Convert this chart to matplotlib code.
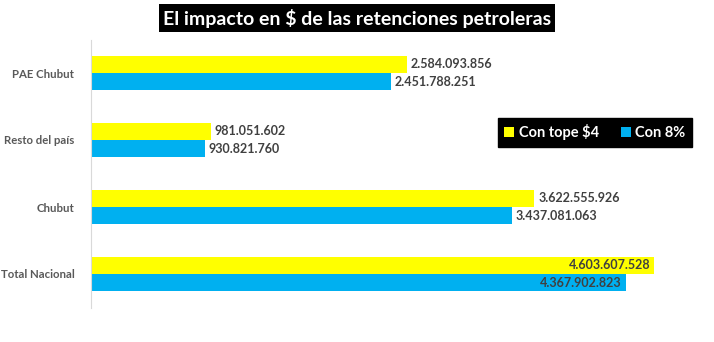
import matplotlib
matplotlib.use('Agg')
import matplotlib.pyplot as plt
import numpy as np

# ── Data ──
categories = ["PAE Chubut", "Resto del país", "Chubut", "Total Nacional"]
con_tope = [2584093856, 981051602, 3622555926, 4603607528]
con_8 = [2451788251, 930821760, 3437081063, 4367902823]
series_names = ["Con tope $4", "Con 8%"]

YELLOW = "#ffff00"
BLUE = "#00b0f0"
TXT = "#404040"


def fmt(v):
    return f"{v:,}".replace(",", ".")


plt.rcParams['font.family'] = ['Lato', 'DejaVu Sans']

fig = plt.figure(figsize=(7.14, 3.42), dpi=100)
ax = fig.add_axes([91 / 714, 1 - 307.5 / 342, 612 / 714, 268 / 342])

y = np.arange(len(categories))
h = 0.254
b1 = ax.barh(y - h / 2, con_tope, height=h, color=YELLOW, label=series_names[0])
b2 = ax.barh(y + h / 2, con_8, height=h, color=BLUE, label=series_names[1])

ax.set_xlim(0, 5e9)
ax.set_ylim(len(categories) - 0.5, -0.5)

for bars, vals in ((b1, con_tope), (b2, con_8)):
    for i, (bar, v) in enumerate(zip(bars, vals)):
        cy = bar.get_y() + bar.get_height() / 2
        if i == len(vals) - 1:
            ax.text(v - 0.03e9, cy, fmt(v), ha='right', va='center',
                    fontsize=9, fontweight='bold', color=TXT)
        else:
            ax.text(v + 0.03e9, cy, fmt(v), ha='left', va='center',
                    fontsize=9, fontweight='bold', color=TXT)

ax.set_yticks(y)
ax.set_yticklabels(categories, fontsize=8.2, fontweight='bold', color="#595959")
ax.tick_params(axis='y', length=0, pad=12)
ax.set_xticks([])
for s in ('top', 'right', 'bottom'):
    ax.spines[s].set_visible(False)
ax.spines['left'].set_color("#d9d9d9")

# title in a black box
fig.text(357 / 714, 1 - 18 / 342, "El impacto en $ de las retenciones petroleras",
         ha='center', va='center', fontsize=14, fontweight='bold', color='white',
         bbox=dict(facecolor='black', edgecolor='none', pad=3))

# legend in a black box
leg = ax.legend(loc='upper left', bbox_to_anchor=(502 / 714, 1 - 122 / 342),
                bbox_transform=fig.transFigure, ncol=2, frameon=True, framealpha=1,
                handlelength=0.7, handleheight=0.7, handletextpad=0.3,
                columnspacing=1.5, borderpad=0.15, borderaxespad=0,
                prop=dict(weight='bold', size=10.5))
leg.get_frame().set_facecolor('black')
leg.get_frame().set_edgecolor('black')
leg.get_frame().set_boxstyle('square', pad=0.3)
for t in leg.get_texts():
    t.set_color('white')

fig.savefig("out.png", dpi=100)
